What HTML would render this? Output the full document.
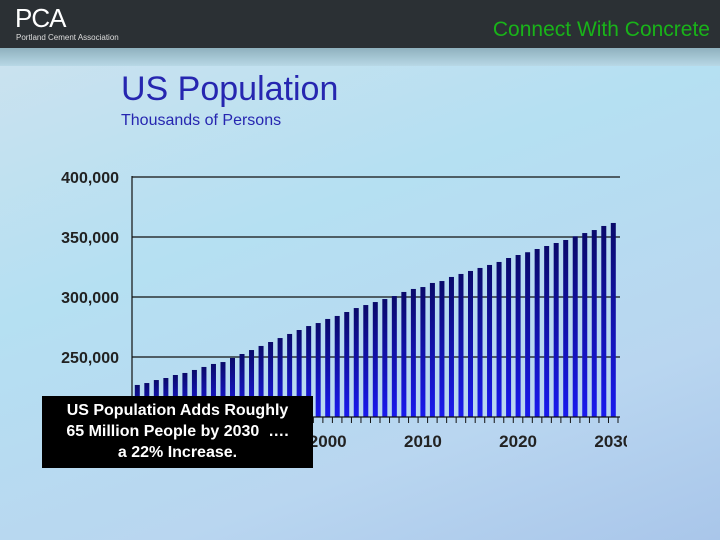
<!DOCTYPE html>
<html><head><meta charset="utf-8"><style>
html,body{margin:0;padding:0}
body{width:720px;height:540px;overflow:hidden;position:relative;font-family:"Liberation Sans",Arial,sans-serif;
background:linear-gradient(160deg,#cfe2ee 0%,#b5e0f2 40%,#b9d6f0 75%,#a9c6ea 100%)}
#hdr{position:absolute;left:0;top:0;width:720px;height:48px;background:#2b3034}
#band{position:absolute;left:0;top:48px;width:720px;height:18px;background:linear-gradient(180deg,#8fb1be,#b8d8e6)}
#chart text{font-family:"Liberation Sans",Arial,sans-serif}
</style></head><body>
<div id="hdr">
 <div style="position:absolute;left:15px;top:3px;color:#fff;font-size:26px;letter-spacing:-1px">PCA</div>
 <div style="position:absolute;left:16px;top:33px;color:#ddd;font-size:8px">Portland Cement Association</div>
 <div style="position:absolute;right:10px;top:18px;color:#19b319;font-size:21px">Connect With Concrete</div>
</div>
<div id="band"></div>
<div style="position:absolute;left:121px;top:70px;color:#2626b0;font-size:34px">US Population</div>
<div style="position:absolute;left:121px;top:112px;color:#2626b0;font-size:16px">Thousands of Persons</div>
<svg id="chart" width="720" height="540" style="position:absolute;left:0;top:0">
<defs><linearGradient id="bg" x1="0" y1="0" x2="0" y2="1"><stop offset="0" stop-color="#0a0a6a"/><stop offset="1" stop-color="#1a1aee"/></linearGradient>
<clipPath id="cp"><rect x="0" y="0" width="627" height="540"/></clipPath></defs>
</svg>
<div style="position:absolute;left:42px;top:396px;width:271px;height:72px;background:#000;color:#fff;font-weight:bold;font-size:16px;text-align:center;line-height:21px;padding-top:4px;box-sizing:border-box">US Population Adds Roughly<br>65 Million People by 2030 &nbsp;….<br>a 22% Increase.</div>
<script>
const years=[];for(let y=1980;y<=2030;y++)years.push(y);
const population=[226.7,228.3,230.8,232.5,235,236.7,239.2,241.7,244.2,245.8,249.2,252.5,255.8,259.2,262.5,265.8,269.2,272.5,275.8,278.3,281.7,284.2,287.5,290.8,293.3,295.8,298.3,300.8,304.2,306.7,308.3,311.7,313.3,316.7,319.2,321.7,324.2,326.7,329.2,332.5,335,337.3,340,342.5,345,347.5,350.6,353.3,355.8,359.2,361.7];
const yTicks=[250,300,350,400];
const yTickLabels=["250,000","300,000","350,000","400,000"];
const xLabelYears=[2000,2010,2020,2030];
const svg=document.getElementById('chart');const NS='http://www.w3.org/2000/svg';
const yS=v=>417-(v-200)*60/50;
const xS=yr=>137.3+(yr-1980)*9.52;
function mk(t,a){const e=document.createElementNS(NS,t);for(const k in a)e.setAttribute(k,a[k]);svg.appendChild(e);return e;}
yTicks.forEach((v,i)=>{
 const g=mk('line',{x1:132,x2:620,y1:yS(v),y2:yS(v),stroke:'#111','stroke-width':1.2});
 
 
 const t=mk('text',{x:119,y:yS(v)+6,'text-anchor':'end','font-size':16,'font-weight':'bold',fill:'#222'});
 t.textContent=yTickLabels[i];
 
 
});
years.forEach((yr,i)=>{
 const r=mk('rect',{x:xS(yr)-2.5,y:yS(population[i]),width:5,height:417-yS(population[i]),fill:'url(#bg)'});
 
 
 const tk=mk('line',{x1:xS(yr)+4.7,x2:xS(yr)+4.7,y1:417,y2:423,stroke:'#111'});
 
 
});
const ya=mk('line',{x1:132,x2:132,y1:176,y2:417,stroke:'#111','stroke-width':1.2});


const xa=mk('line',{x1:132,x2:620,y1:417,y2:417,stroke:'#111','stroke-width':1.2});


xLabelYears.forEach(yr=>{
 const t=mk('text',{x:xS(yr),y:447,'text-anchor':'middle','font-size':17,'font-weight':'bold',fill:'#222','clip-path':'url(#cp)'});
 t.textContent=yr;
 
 
});
</script>
</body></html>
